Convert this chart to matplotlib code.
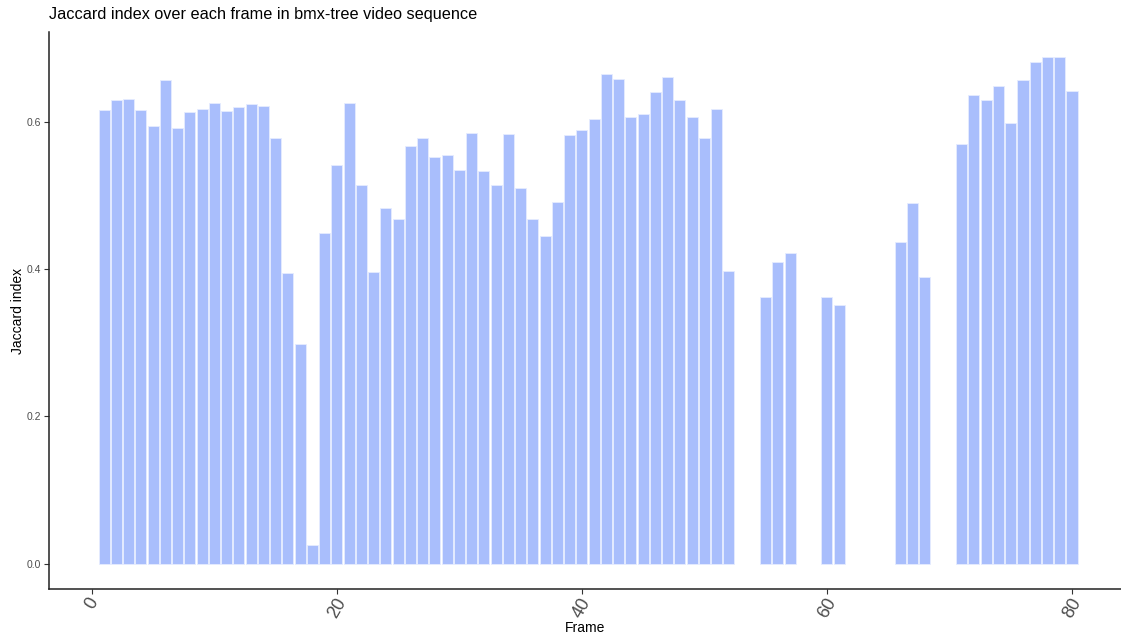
import numpy as np
import matplotlib.pyplot as plt

plt.rcParams['font.family'] = ['Liberation Sans', 'DejaVu Sans']

# frames with a valid jaccard value (53-54, 58-59, 62-65, 69-70 missing)
frames = list(range(1, 53)) + [55, 56, 57, 60, 61, 66, 67, 68] + list(range(71, 81))
jaccard = [0.616, 0.630, 0.631, 0.616, 0.595, 0.657, 0.592, 0.614, 0.618, 0.626,
           0.615, 0.620, 0.624, 0.622, 0.578, 0.395, 0.298, 0.025, 0.449, 0.541,
           0.626, 0.514, 0.396, 0.483, 0.468, 0.567, 0.578, 0.552, 0.555, 0.535,
           0.585, 0.533, 0.514, 0.584, 0.511, 0.468, 0.445, 0.491, 0.582, 0.589,
           0.604, 0.665, 0.658, 0.607, 0.611, 0.641, 0.661, 0.630, 0.607, 0.578,
           0.618, 0.397,
           0.362, 0.410, 0.422, 0.362, 0.352, 0.437, 0.490, 0.390,
           0.570, 0.637, 0.630, 0.649, 0.599, 0.657, 0.682, 0.688, 0.688, 0.642]
xticks = [0, 20, 40, 60, 80]
yticks = [0.0, 0.2, 0.4, 0.6]

fig = plt.figure(figsize=(11.21, 6.37), dpi=100)
ax = fig.add_axes([0.0437, 0.0754, 0.9563, 0.8744])
ax.bar(frames, jaccard, width=0.9, color='#a9befc', edgecolor='#e6ecff', linewidth=0.6)

ax.set_xlim(-3.5, 84.0)
ax.set_ylim(-0.0344, 0.7224)
ax.set_xticks(xticks)
ax.set_yticks(yticks)
ax.set_yticklabels([f'{v:.1f}' for v in yticks])

for s in ['top', 'right']:
    ax.spines[s].set_visible(False)
for s in ['left', 'bottom']:
    ax.spines[s].set_color('#222222')
    ax.spines[s].set_linewidth(1.1)

ax.tick_params(axis='both', color='#333333', length=3.5, width=0.8)
ax.tick_params(axis='y', labelsize=7.5, labelcolor='#4d4d4d', pad=2)
ax.tick_params(axis='x', labelsize=13, labelcolor='#4d4d4d', pad=1)
for lab in ax.get_xticklabels():
    lab.set_rotation(60)
    lab.set_ha('center')
    lab.set_va('top')

ax.set_xlabel('Frame', fontsize=10, labelpad=0)
ax.set_ylabel('Jaccard index', fontsize=10, labelpad=1)
fig.text(0.0437, 0.977, 'Jaccard index over each frame in bmx-tree video sequence',
         fontsize=11.7, ha='left', va='center')

fig.savefig('out.png', dpi=100)
